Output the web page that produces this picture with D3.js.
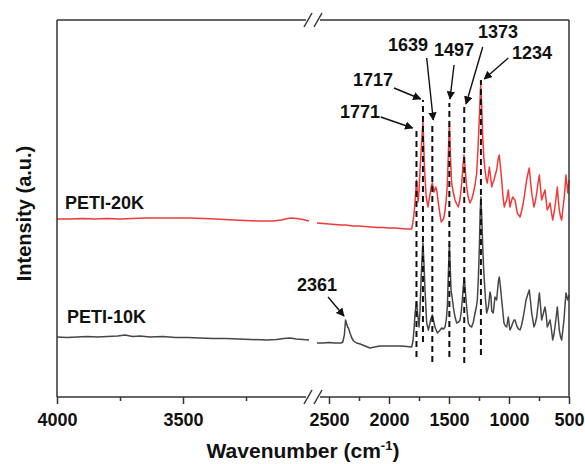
<!DOCTYPE html>
<meta charset="utf-8">
<style>
body{
    margin: 0;
    background: #fff;
}
svg text{
    font-family: Arial, 'Liberation Sans', sans-serif;
    font-weight: bold;
    fill: #111;
}
.frame{
    stroke: #333;
    stroke-width: 1.5;
    fill: none;
}
.tick line{
    stroke: #333;
    stroke-width: 1.5;
}
.tick text{
    font-size: 18px;
}
.spectrum{
    fill: none;
    stroke-width: 1.5;
    stroke-linejoin: round;
}
.peak-line{
    stroke: #111;
    stroke-width: 2;
    stroke-dasharray: 6,4;
}
.arrow{
    stroke: #111;
    stroke-width: 1.4;
    marker-end: url(#head);
}
</style>
<svg width="585" height="464"></svg>
<script src="https://cdnjs.cloudflare.com/ajax/libs/d3/7.8.5/d3.min.js"></script>
<script>

// spectra, [wavenumber, intensity (a.u.)]
var blackLeft = [[4000,60],[3960,59.5],[3920,60],[3880,60.5],[3840,60],[3800,60.5],[3760,61],[3730,62],[3700,60.5],[3670,61],[3631,60],[3580,60.5],[3530,59.5],[3480,59.5],[3433,59],[3380,58.5],[3330,58.5],[3280,58],[3230,57.5],[3167,57],[3130,57.5],[3100,58.5],[3075,59],[3050,58],[3025,57.5],[3000,57]];

var blackRight = [[2600,54],[2550,54],[2500,54.5],[2450,54],[2400,54],[2385,55],[2372,62],[2362,77],[2355,74],[2345,70],[2338,69],[2325,64],[2310,59],[2295,56],[2270,54],[2240,53],[2200,51],[2158,49],[2120,50],[2075,51],[2000,51],[1950,51],[1900,51],[1850,50.5],[1811,50],[1800,56],[1790,70],[1783,84],[1771,95],[1762,84],[1750,70],[1742,85],[1733,117],[1724,140],[1717,154],[1709,135],[1700,107],[1686,74],[1672,67],[1662,72],[1653,77],[1639,82],[1628,76],[1617,70],[1597,64],[1580,66],[1561,69],[1545,68],[1533,70],[1522,78],[1514,90],[1505,125],[1497,152],[1490,130],[1483,107],[1472,98],[1464,90],[1450,80],[1436,74],[1420,75],[1408,77],[1398,85],[1389,97],[1380,112],[1373,119],[1365,108],[1358,97],[1348,84],[1339,74],[1325,71],[1311,70],[1297,75],[1283,84],[1272,90],[1264,97],[1255,120],[1247,150],[1240,185],[1234,200],[1227,180],[1219,150],[1212,130],[1206,117],[1196,98],[1186,84],[1172,90],[1158,105],[1150,100],[1144,86],[1131,84],[1117,100],[1103,97],[1089,115],[1081,120],[1071,110],[1061,97],[1050,84],[1042,74],[1030,71],[1019,70],[1006,80],[992,67],[980,70],[969,74],[958,77],[950,77],[940,73],[931,70],[920,68],[908,67],[895,72],[881,80],[870,88],[858,97],[845,102],[831,107],[820,95],[811,84],[800,76],[792,70],[780,74],[769,80],[758,92],[747,104],[738,92],[728,77],[715,83],[700,90],[690,82],[681,70],[670,73],[658,77],[647,68],[636,57],[625,63],[617,70],[607,80],[597,90],[590,80],[581,67],[570,60],[561,57],[552,66],[542,77],[533,92],[525,104],[517,100],[510,97],[500,102]];

var redLeft = [[4000,178],[3950,178],[3900,178.5],[3850,178],[3800,178.5],[3750,178],[3700,178.5],[3650,179],[3600,179],[3550,179],[3500,179],[3472,179],[3420,178.5],[3370,178],[3300,177],[3250,176.5],[3200,176],[3142,176],[3110,177],[3085,178.5],[3070,179],[3050,178.5],[3025,177.5],[3000,176]];

var redRight = [[2600,174],[2550,173.5],[2500,173],[2450,172.5],[2400,172],[2361,172],[2300,171],[2250,171],[2200,170.5],[2150,170],[2100,169.5],[2050,169.5],[2000,169],[1950,169],[1900,168.5],[1850,168],[1811,168],[1800,175],[1790,185],[1780,200],[1771,217],[1764,205],[1758,195],[1750,205],[1740,230],[1728,255],[1717,275],[1710,250],[1703,225],[1690,200],[1675,190],[1665,198],[1655,205],[1645,212],[1639,214],[1625,205],[1610,210],[1600,205],[1590,195],[1578,185],[1565,175],[1545,178],[1535,185],[1525,195],[1515,210],[1505,245],[1497,274],[1488,240],[1478,214],[1465,205],[1450,197],[1436,193],[1422,190],[1408,198],[1394,214],[1383,232],[1375,242],[1365,228],[1353,210],[1340,200],[1325,194],[1310,198],[1297,204],[1283,212],[1269,224],[1258,250],[1247,280],[1236,312],[1227,290],[1219,260],[1210,240],[1200,227],[1190,218],[1181,214],[1172,222],[1164,230],[1155,222],[1144,210],[1135,214],[1125,217],[1115,222],[1103,227],[1090,238],[1081,242],[1071,230],[1061,217],[1050,200],[1039,190],[1030,194],[1019,197],[1006,207],[992,190],[980,196],[969,200],[958,198],[950,197],[940,190],[931,184],[920,182],[908,180],[895,186],[881,194],[866,206],[853,217],[841,224],[831,229],[820,215],[811,204],[800,196],[792,190],[780,196],[769,204],[758,214],[747,222],[738,210],[728,197],[715,202],[700,207],[690,196],[681,187],[670,190],[658,194],[647,185],[636,177],[625,184],[617,190],[607,200],[597,210],[590,198],[581,187],[570,180],[561,177],[552,187],[542,197],[533,210],[525,222],[517,212],[510,204],[500,217]];

var seriesNames = ['PETI-20K', 'PETI-10K'];
var seriesLabelAt = [[3968,194],[3960,80]];

// marked bands: dashed guide from bottom to top (a.u.)
var peakWn = [1771, 1717, 1639, 1497, 1373, 1234];
var peakTop = [269, 297, 275, 294, 292, 317];
var peakBottom = [40, 55, 35, 40, 34, 42];

// annotation text + arrow (tail -> head) in data units
var annText = ['1771', '1717', '1639', '1497', '1373', '1234', '2361'];
var annAt = [[2242,285],[2133,317],[1842,352],[1458,347],[1092,365],[808,344],[2600,112]];
var annFrom = [[2069,280],[1958,309],[1686,339],[1458,332],[1219,350],[1006,339],[2508,100]];
var annTo = [[1803,269],[1736,298],[1631,277],[1492,298],[1358,293],[1206,318],[2375,81]];

var majorLeft = [4000, 3500], minorLeft = [3750, 3250];
var majorRight = [2500, 2000, 1500, 1000, 500], minorRight = [2250, 1750, 1250, 750];

var svg = d3.select('svg');
var margin = {top:20, left:57, right:16, bottom:67};
var width = 585 - margin.left - margin.right;
var height = 464 - margin.top - margin.bottom;
var gap = 8;
var segW = (width - gap) / 2;

var xLeft = d3.scaleLinear().domain([4000, 3000]).range([margin.left, margin.left + segW]);
var xRight = d3.scaleLinear().domain([2600, 500]).range([margin.left + segW + gap, margin.left + width]);
var y = d3.scaleLinear().domain([0, 377]).range([margin.top + height, margin.top]);

function x(w){ return w > 2800 ? xLeft(w) : xRight(w); }

svg.append('defs').append('marker')
    .attr('id', 'head')
    .attr('viewBox', '0 0 10 10')
    .attr('refX', 9).attr('refY', 5)
    .attr('markerWidth', 6).attr('markerHeight', 6)
    .attr('markerUnits', 'strokeWidth')
    .attr('orient', 'auto')
    .append('path')
    .attr('d', 'M0,0L10,5L0,10z')
    .attr('fill', '#111');

var line = d3.line()
    .x(function(d){ return x(d[0]); })
    .y(function(d){ return y(d[1]); });

// spectra
var specLayer = svg.append('g');
[[redLeft, '#f03a3a'], [redRight, '#f03a3a'], [blackLeft, '#464646'], [blackRight, '#464646']].forEach(function(s){
    specLayer.append('path')
        .datum(s[0])
        .attr('class', 'spectrum')
        .attr('stroke', s[1])
        .attr('d', line);
});

// dashed guides
svg.append('g').selectAll('line')
    .data(peakWn)
    .enter().append('line')
    .attr('class', 'peak-line')
    .attr('x1', function(d){ return x(d); })
    .attr('x2', function(d){ return x(d); })
    .attr('y1', function(d, i){ return y(peakBottom[i]); })
    .attr('y2', function(d, i){ return y(peakTop[i]); });

// arrows and labels
var ann = svg.append('g');
ann.selectAll('line')
    .data(annText)
    .enter().append('line')
    .attr('class', 'arrow')
    .attr('x1', function(d, i){ return x(annFrom[i][0]); })
    .attr('y1', function(d, i){ return y(annFrom[i][1]); })
    .attr('x2', function(d, i){ return x(annTo[i][0]); })
    .attr('y2', function(d, i){ return y(annTo[i][1]); });
ann.selectAll('text')
    .data(annText)
    .enter().append('text')
    .attr('x', function(d, i){ return x(annAt[i][0]); })
    .attr('y', function(d, i){ return y(annAt[i][1]); })
    .attr('dy', '0.35em')
    .attr('text-anchor', 'middle')
    .style('font-size', '18px')
    .text(function(d){ return d; });

svg.append('g').selectAll('text')
    .data(seriesNames)
    .enter().append('text')
    .attr('x', function(d, i){ return x(seriesLabelAt[i][0]); })
    .attr('y', function(d, i){ return y(seriesLabelAt[i][1]); })
    .attr('dy', '0.35em')
    .style('font-size', '18px')
    .text(function(d){ return d; });

// axes
var bottom = margin.top + height;
function addAxis(scale, major, minor){
    svg.append('g')
        .attr('transform', 'translate(0,' + bottom + ')')
        .call(d3.axisBottom(scale).tickValues(major).tickSize(7).tickPadding(9).tickSizeOuter(0).tickFormat(d3.format('d')))
        .call(function(g){ g.select('.domain').remove(); });
    svg.append('g')
        .attr('transform', 'translate(0,' + bottom + ')')
        .call(d3.axisBottom(scale).tickValues(minor).tickSize(4).tickFormat('').tickSizeOuter(0))
        .call(function(g){ g.select('.domain').remove(); });
}
addAxis(xLeft, majorLeft, minorLeft);
addAxis(xRight, majorRight, minorRight);

var xl0 = xLeft.range()[0], xl1 = xLeft.range()[1];
var xr0 = xRight.range()[0], xr1 = xRight.range()[1];
var frame = svg.append('g').attr('class', 'frame');
[margin.top, bottom].forEach(function(yy){
    frame.append('line').attr('x1', xl0).attr('x2', xl1 - 3).attr('y1', yy).attr('y2', yy);
    frame.append('line').attr('x1', xr0 + 3).attr('x2', xr1).attr('y1', yy).attr('y2', yy);
    [xl1 - 1, xr0 + 1].forEach(function(bx){
        frame.append('line')
            .attr('x1', bx - 4).attr('y1', yy + 7)
            .attr('x2', bx + 4).attr('y2', yy - 7);
    });
});
frame.append('line').attr('x1', xl0).attr('x2', xl0).attr('y1', margin.top).attr('y2', bottom);
frame.append('line').attr('x1', xr1).attr('x2', xr1).attr('y1', margin.top).attr('y2', bottom);

// titles
var xt = svg.append('text')
    .attr('x', margin.left + width / 2 - 10)
    .attr('y', 458)
    .attr('text-anchor', 'middle')
    .style('font-size', '21px');
xt.append('tspan').text('Wavenumber (cm');
xt.append('tspan').attr('dy', -8).style('font-size', '13px').text('-1');
xt.append('tspan').attr('dy', 8).text(')');

svg.append('text')
    .attr('transform', 'translate(31,' + (margin.top + height / 2 + 5) + ') rotate(-90)')
    .attr('text-anchor', 'middle')
    .style('font-size', '20px')
    .text('Intensity (a.u.)');

</script>
